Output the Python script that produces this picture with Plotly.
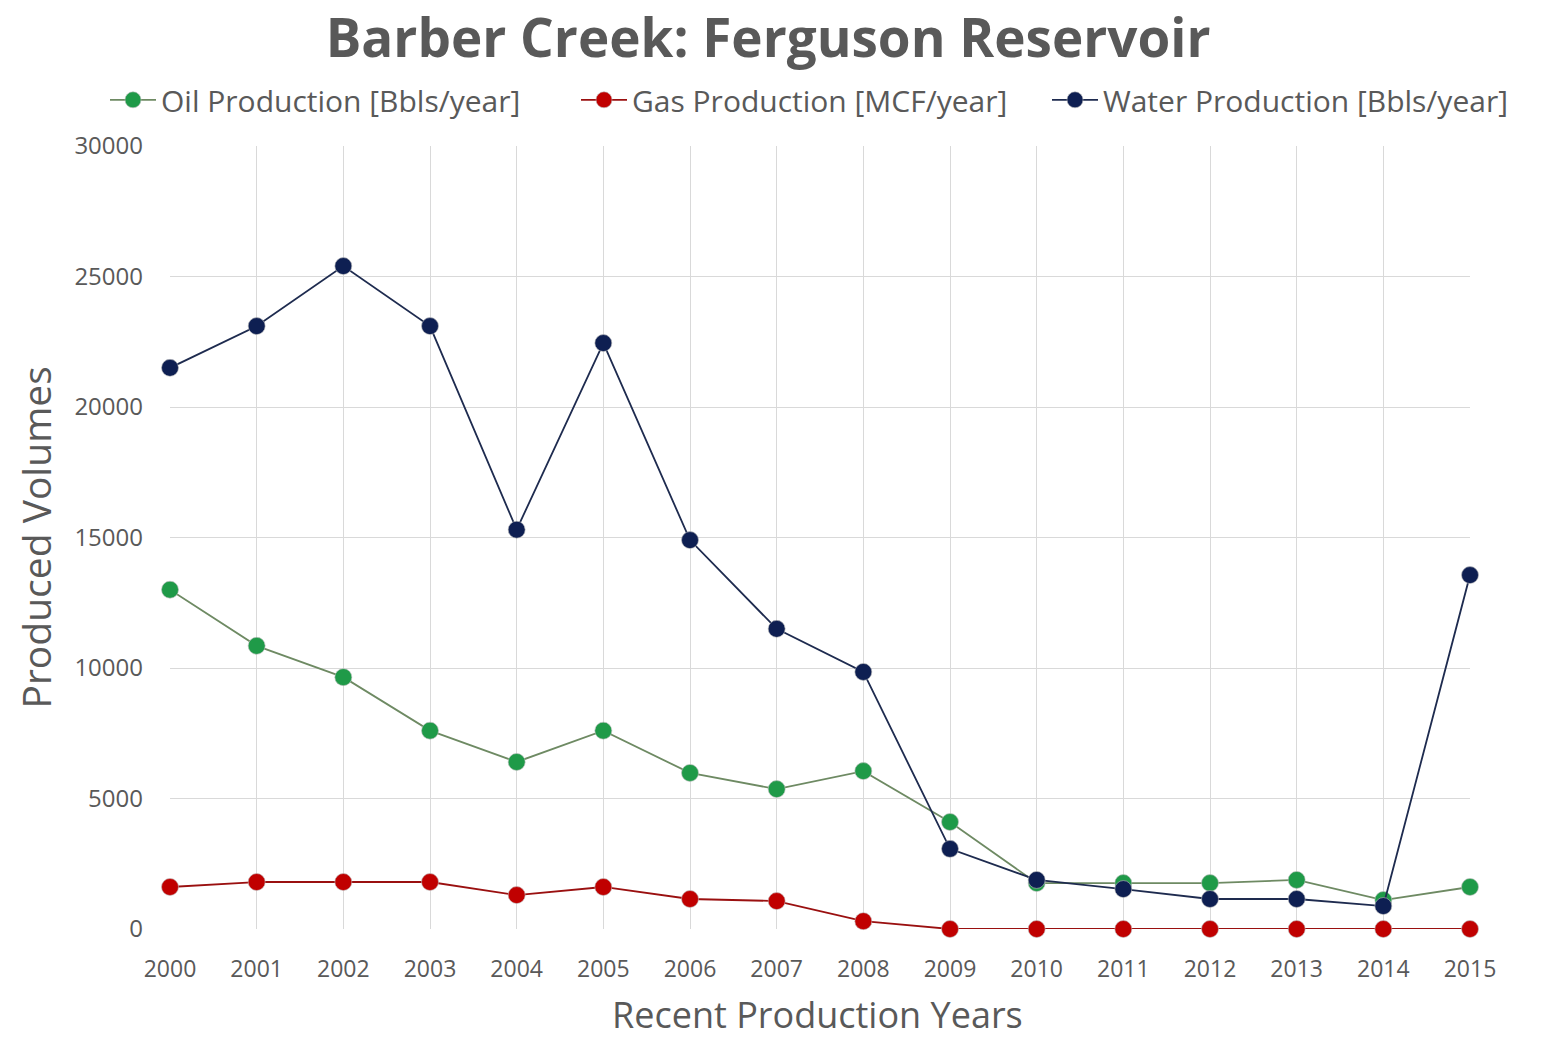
import plotly.graph_objects as go

# Annual production, Barber Creek field, Ferguson reservoir
years = [2000, 2001, 2002, 2003, 2004, 2005, 2006, 2007,
         2008, 2009, 2010, 2011, 2012, 2013, 2014, 2015]
oil = [13000, 10850, 9650, 7600, 6400, 7600, 5980, 5360,
       6050, 4100, 1760, 1760, 1760, 1880, 1110, 1610]
gas = [1610, 1800, 1800, 1800, 1300, 1610, 1150, 1070,
       300, 0, 0, 0, 0, 0, 0, 0]
water = [21500, 23100, 25400, 23100, 15300, 22450, 14900, 11500,
         9850, 3070, 1880, 1530, 1150, 1150, 880, 13560]

y_ticks = [0, 5000, 10000, 15000, 20000, 25000, 30000]

FONT = "Open Sans"
TEXT = "#595959"
GRID = "#d9d9d9"

series = [
    ("Oil Production [Bbls/year]", oil, "#1f9a48", "#6e8a63"),
    ("Gas Production [MCF/year]", gas, "#c00000", "#9a1010"),
    ("Water Production [Bbls/year]", water, "#0e1f52", "#1e2b4f"),
]

fig = go.Figure()
for name, vals, mcolor, lcolor in series:
    fig.add_trace(go.Scatter(
        x=years, y=vals, name=name, mode="lines+markers",
        cliponaxis=False,
        line=dict(color=lcolor, width=1.8),
        marker=dict(size=17, color=mcolor,
                    line=dict(color="rgba(190,190,190,0.6)", width=1)),
    ))

fig.update_layout(
    width=1553, height=1041,
    margin=dict(l=170, r=83, t=146, b=112),
    paper_bgcolor="white", plot_bgcolor="white",
    font=dict(family=FONT, color=TEXT),
    title=dict(text="<b>Barber Creek: Ferguson Reservoir</b>",
               x=0.4946, xanchor="center", y=0.963, yanchor="middle",
               font=dict(family=FONT, size=53, color=TEXT)),
    # anchored left of the plot area so the single row may span the page
    legend=dict(orientation="h", x=-0.05, xanchor="left",
                y=1.059, yanchor="middle",
                font=dict(family=FONT, size=30, color=TEXT),
                itemwidth=46, tracegroupgap=0,
                entrywidth=410, entrywidthmode="pixels"),
    showlegend=True,
    xaxis=dict(range=[2000, 2015], tickmode="array", tickvals=years,
               ticktext=[str(y) for y in years],
               showgrid=True, gridcolor=GRID, gridwidth=1,
               zeroline=False, showline=False, ticks="",
               ticklabelstandoff=24,
               tickfont=dict(family=FONT, size=23, color=TEXT)),
    yaxis=dict(range=[0, 30000], tickmode="array", tickvals=y_ticks,
               ticktext=[str(v) for v in y_ticks],
               showgrid=True, gridcolor=GRID, gridwidth=1,
               zeroline=False, showline=False, ticks="",
               ticklabelstandoff=26,
               tickfont=dict(family=FONT, size=24, color=TEXT)),
    annotations=[
        dict(text="Produced Volumes", xref="paper", yref="paper",
             x=-0.1038, y=0.5, xanchor="center", yanchor="middle",
             textangle=-90, showarrow=False,
             font=dict(family=FONT, size=39, color=TEXT)),
        dict(text="Recent Production Years", xref="paper", yref="paper",
             x=0.498, y=-0.109, xanchor="center", yanchor="middle",
             showarrow=False,
             font=dict(family=FONT, size=36, color=TEXT)),
    ],
)

fig.write_html("out.html")
